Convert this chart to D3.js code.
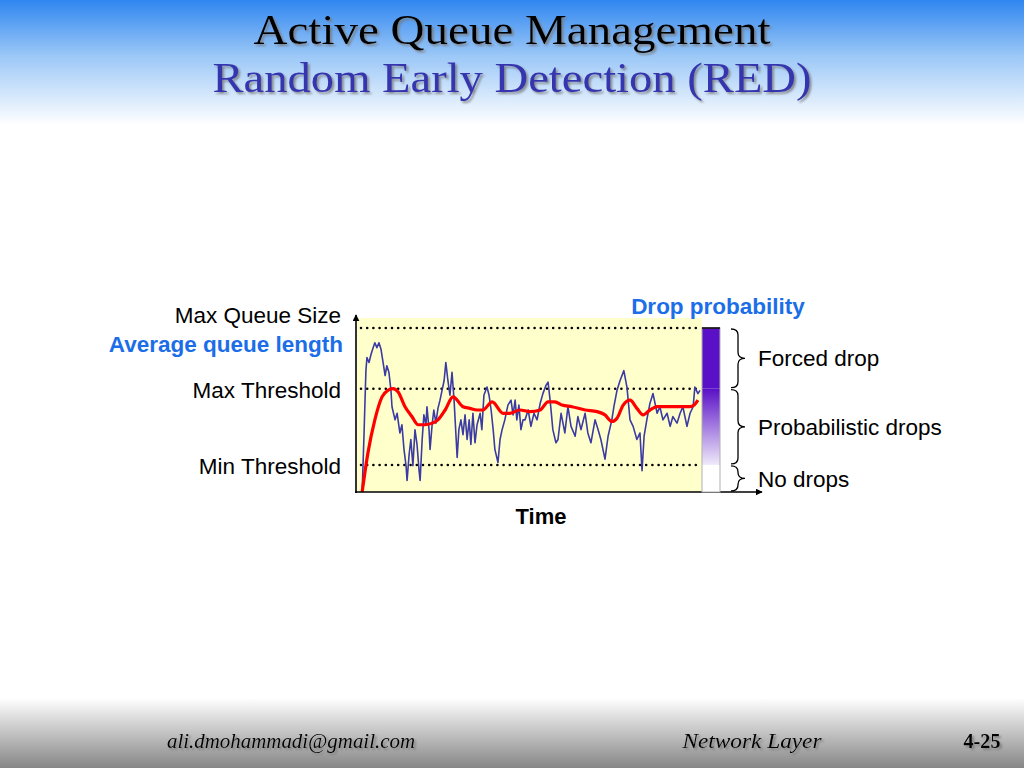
<!DOCTYPE html>
<html>
<head>
<meta charset="utf-8">
<script src="https://cdn.jsdelivr.net/npm/d3@7"></script>
<style>
	body { margin:0; background:#fff; }
	svg { display:block; }
</style>
</head>
<body>
<div id="chart"></div>
<script>
// queue length in packets (0..100 = max queue size), time in arbitrary units 0..100
var queueTime = [1.5,2.0,2.6,2.9,3.5,4.1,4.7,5.2,5.8,6.4,7.0,7.6,8.2,8.7,9.3,9.9,10.2,11.1,11.7,12.5,
	13.1,13.7,14.3,14.6,15.2,15.7,16.3,16.9,17.5,18.1,18.4,19.0,19.5,20.1,20.4,21.0,21.3,21.9,22.4,23.0,
	23.6,24.2,24.8,25.4,25.9,26.5,27.1,27.7,28.3,29.2,29.7,30.3,30.9,31.5,32.1,32.7,33.2,33.8,34.4,35.0,
	35.9,36.4,37.0,37.9,38.5,39.1,39.7,40.2,41.1,41.7,42.3,43.1,44.0,44.9,45.5,46.1,46.6,47.2,47.8,48.4,
	49.0,49.9,50.7,51.6,52.5,53.4,54.2,55.1,55.7,56.3,57.1,58.0,58.6,59.5,60.6,61.5,62.4,63.6,64.4,65.3,
	66.5,67.3,68.2,69.4,70.3,71.1,72.3,73.2,74.3,74.9,75.8,76.7,77.8,78.7,79.6,80.5,81.6,82.5,83.1,83.7,
	84.5,85.4,86.3,87.5,88.3,89.2,90.4,91.3,92.1,93.3,94.2,95.0,96.2,97.1,98.0,98.5,99.4,100];
var queueLen = [0,32,74,82,79,84,88,91,88,91,87,79,71,77,73,62,52,44,48,36,
	41,26,16,7,23,32,16,38,29,13,7,32,47,41,52,38,26,41,50,42,
	51,56,62,68,79,68,59,73,56,21,38,44,35,47,32,44,29,48,30,41,
	48,38,59,64,59,50,38,26,18,32,38,44,53,56,47,56,44,53,38,44,
	44,50,40,48,44,54,60,65,67,56,38,30,32,48,36,52,40,34,46,38,
	48,36,30,44,38,32,20,34,44,52,62,68,74,64,44,40,32,36,13,34,
	44,54,60,48,52,44,48,40,46,42,48,52,40,48,52,64,60,62];

var avgTime = [1.5,3.2,5.2,7.3,9.0,10.5,12.0,14.0,16.0,17.8,19.8,21.9,23.6,25.7,28.0,30.9,32.9,35.0,36.7,39.4,
	42.6,44.6,47.5,50.4,53.4,55.7,57.7,59.8,62.7,66.5,70.0,72.3,74.3,75.8,77.6,79.6,81.6,83.4,85.4,87.5,
	92.8,97.1,98.3,99.4];
var avgLen = [0,24,44,58,62,63,61,52,46,41,41,42,44,50,58,52,51,50,50,55,
	48,48,50,49,50,55,55,53,52,50,49,47,43,45,53,56,51,47,50,52,
	52,52,53,56];

var thresholdNames = ["Max Queue Size","Max Threshold","Min Threshold"];
var thresholdValues = [100,63,16.5];

var zoneNames = ["Forced drop","Probabilistic drops","No drops"];
var zoneFrom = [63,16.5,0];
var zoneTo = [100,63,16.5];

var W = 1024, H = 768;
var sans = "Liberation Sans, Arial, sans-serif";
var serif = "Liberation Serif, serif";

var svg = d3.select("#chart").append("svg").attr("width",W).attr("height",H);
var defs = svg.append("defs");

var topGrad = defs.append("linearGradient").attr("id","topGrad").attr("x1",0).attr("x2",0).attr("y1",0).attr("y2",1);
topGrad.append("stop").attr("offset","0%").attr("stop-color","#2f86f0");
topGrad.append("stop").attr("offset","45%").attr("stop-color","#9cc8f7");
topGrad.append("stop").attr("offset","100%").attr("stop-color","#ffffff");

var botGrad = defs.append("linearGradient").attr("id","botGrad").attr("x1",0).attr("x2",0).attr("y1",0).attr("y2",1);
botGrad.append("stop").attr("offset","0%").attr("stop-color","#ffffff");
botGrad.append("stop").attr("offset","100%").attr("stop-color","#868686");

var probGrad = defs.append("linearGradient").attr("id","probGrad").attr("x1",0).attr("x2",0).attr("y1",0).attr("y2",1);
probGrad.append("stop").attr("offset","0%").attr("stop-color","#5a10c6");
probGrad.append("stop").attr("offset","100%").attr("stop-color","#efeafa");

var shadow = defs.append("filter").attr("id","shadow").attr("x","-10%").attr("y","-20%").attr("width","130%").attr("height","160%");
shadow.append("feDropShadow").attr("dx",2).attr("dy",2).attr("stdDeviation",0.8).attr("flood-color","#777").attr("flood-opacity",0.8);

var arrow = defs.append("marker").attr("id","arrow").attr("viewBox","0 0 10 10")
	.attr("refX",9).attr("refY",5).attr("markerWidth",7).attr("markerHeight",7)
	.attr("markerUnits","userSpaceOnUse").attr("orient","auto");
arrow.append("path").attr("d","M 0 0 L 10 5 L 0 10 z").attr("fill","black");

svg.append("rect").attr("width",W).attr("height",125).attr("fill","url(#topGrad)");
svg.append("rect").attr("y",698).attr("width",W).attr("height",70).attr("fill","url(#botGrad)");

// title
svg.append("text").attr("x",512).attr("y",44).attr("text-anchor","middle")
	.attr("font-family",serif).attr("font-size",42)
	.attr("textLength",517).attr("lengthAdjust","spacingAndGlyphs")
	.attr("fill","#000").attr("filter","url(#shadow)")
	.text("Active Queue Management");
svg.append("text").attr("x",512).attr("y",92).attr("text-anchor","middle")
	.attr("font-family",serif).attr("font-size",42)
	.attr("textLength",599).attr("lengthAdjust","spacingAndGlyphs")
	.attr("fill","#3434b0").attr("filter","url(#shadow)")
	.text("Random Early Detection (RED)");

// footer
var foot = svg.append("g").attr("font-family",serif).attr("font-size",20).attr("filter","url(#shadow)");
foot.append("text").attr("x",291).attr("y",748).attr("text-anchor","middle").attr("font-style","italic")
	.attr("textLength",248).attr("lengthAdjust","spacingAndGlyphs").text("ali.dmohammadi@gmail.com");
foot.append("text").attr("x",752).attr("y",748).attr("text-anchor","middle").attr("font-style","italic")
	.attr("textLength",139).attr("lengthAdjust","spacingAndGlyphs").text("Network Layer");
foot.append("text").attr("x",982).attr("y",748).attr("text-anchor","middle").attr("font-weight","bold")
	.attr("textLength",37).attr("lengthAdjust","spacingAndGlyphs").text("4-25");

// chart
var x = d3.scaleLinear().domain([0,100]).range([357,700]);
var y = d3.scaleLinear().domain([0,100]).range([492,328]);

var plot = svg.append("g");

plot.append("rect")
	.attr("x",x(0)).attr("y",y(100)-10)
	.attr("width",x(100)-x(0)+2).attr("height",y(0)-y(100)+10)
	.attr("fill","#ffffcc");

plot.selectAll(".thr").data(thresholdValues).enter().append("line")
	.attr("class","thr")
	.attr("x1",x(0)+4).attr("x2",x(100)+1)
	.attr("y1",d => y(d)).attr("y2",d => y(d))
	.attr("stroke","black").attr("stroke-width",2.6)
	.attr("stroke-linecap","round").attr("stroke-dasharray","0,6.2");

var queueLine = d3.line().x((d,i) => x(queueTime[i])).y(d => y(d));
plot.append("path").datum(queueLen)
	.attr("d",queueLine)
	.attr("fill","none").attr("stroke","#3b3ba3").attr("stroke-width",1.6)
	.attr("stroke-linejoin","round");

var avgLine = d3.line().x((d,i) => x(avgTime[i])).y(d => y(d)).curve(d3.curveMonotoneX);
plot.append("path").datum(avgLen)
	.attr("d",avgLine)
	.attr("fill","none").attr("stroke","#ff0000").attr("stroke-width",3.2)
	.attr("stroke-linejoin","round");

// axes
svg.append("line").attr("x1",356).attr("x2",356).attr("y1",y(0)+1).attr("y2",y(100)-13)
	.attr("stroke","black").attr("stroke-width",1.6).attr("marker-end","url(#arrow)");
svg.append("line").attr("x1",355).attr("x2",762).attr("y1",y(0)).attr("y2",y(0))
	.attr("stroke","black").attr("stroke-width",1.6).attr("marker-end","url(#arrow)");

// drop probability bar
var bx = 702, bw = 18;
svg.append("rect").attr("x",bx).attr("y",y(zoneTo[0])).attr("width",bw).attr("height",y(zoneFrom[0])-y(zoneTo[0]))
	.attr("fill","#5a10c6");
svg.append("rect").attr("x",bx).attr("y",y(zoneTo[1])).attr("width",bw).attr("height",y(zoneFrom[1])-y(zoneTo[1]))
	.attr("fill","url(#probGrad)");
svg.append("rect").attr("x",bx).attr("y",y(zoneTo[2])).attr("width",bw).attr("height",y(zoneFrom[2])-y(zoneTo[2]))
	.attr("fill","#ffffff");
svg.append("rect").attr("x",bx).attr("y",y(100)).attr("width",bw).attr("height",y(0)-y(100))
	.attr("fill","none").attr("stroke","#b0b0b0").attr("stroke-width",1);
svg.append("line").attr("x1",bx).attr("x2",bx+bw).attr("y1",y(100)).attr("y2",y(100))
	.attr("stroke","black").attr("stroke-width",1.5);

// braces
function brace(x0,y1,y2,w){
	var xm = x0 + w/2, ym = (y1+y2)/2, r = Math.min(6,(y2-y1)/4);
	return "M " + x0 + " " + y1 +
		" Q " + xm + " " + y1 + " " + xm + " " + (y1+r) +
		" L " + xm + " " + (ym-r) +
		" Q " + xm + " " + ym + " " + (x0+w) + " " + ym +
		" Q " + xm + " " + ym + " " + xm + " " + (ym+r) +
		" L " + xm + " " + (y2-r) +
		" Q " + xm + " " + y2 + " " + x0 + " " + y2;
}
svg.selectAll(".brace").data(zoneNames).enter().append("path")
	.attr("class","brace")
	.attr("d",(d,i) => brace(731,y(zoneTo[i])+1,y(zoneFrom[i])-1,14))
	.attr("fill","none").attr("stroke","black").attr("stroke-width",1.3);

svg.selectAll(".zone").data(zoneNames).enter().append("text")
	.attr("class","zone")
	.attr("x",758)
	.attr("y",(d,i) => i==2 ? y(0)-5 : (y(zoneTo[i])+y(zoneFrom[i]))/2 + 8)
	.attr("font-family",sans).attr("font-size",22.5)
	.text(d => d);

// left labels
svg.selectAll(".thrLabel").data(thresholdNames).enter().append("text")
	.attr("class","thrLabel")
	.attr("x",341)
	.attr("y",(d,i) => i==0 ? y(thresholdValues[i]) - 5 : y(thresholdValues[i]) + 9)
	.attr("text-anchor","end")
	.attr("font-family",sans).attr("font-size",22.5)
	.text(d => d);

svg.append("text").attr("x",343).attr("y",352).attr("text-anchor","end")
	.attr("font-family",sans).attr("font-size",22.5).attr("font-weight","bold")
	.attr("fill","#1b6ee8").text("Average queue length");

svg.append("text").attr("x",718).attr("y",314).attr("text-anchor","middle")
	.attr("font-family",sans).attr("font-size",22.5).attr("font-weight","bold")
	.attr("fill","#1b6ee8").text("Drop probability");

svg.append("text").attr("x",541).attr("y",524).attr("text-anchor","middle")
	.attr("font-family",sans).attr("font-size",22).attr("font-weight","bold")
	.attr("fill","#000").text("Time");
</script>
</body>
</html>
